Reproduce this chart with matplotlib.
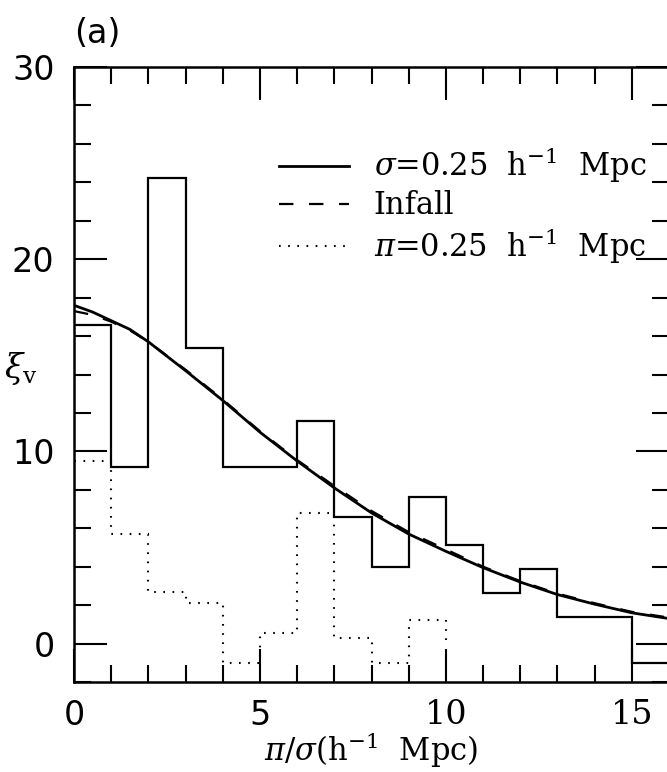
import matplotlib
matplotlib.use('Agg')
import matplotlib.pyplot as plt
from matplotlib.ticker import MultipleLocator

# === DADOS ===
bordas = list(range(17))                      # bins de largura 1, 0..16
hist_sigma = [16.6, 9.2, 24.2, 15.4, 9.2, 9.2, 11.6, 6.6,
              4.0, 7.65, 5.15, 2.65, 3.9, 1.4, 1.4, -1.0]
bordas_pi = list(range(11))                   # 0..10
hist_pi = [9.5, 5.7, 2.7, 2.1, -1.0, 0.55, 6.8, 0.3, -1.0, 1.25]

curva_x = [0, 0.5, 1, 1.5, 2, 3, 4, 5, 6, 7, 8, 9, 10, 11, 12, 13, 14, 15, 16]
curva_sigma = [17.6, 17.25, 16.8, 16.35, 15.7, 14.2, 12.65, 11.0, 9.5, 8.1,
               6.8, 5.7, 4.8, 3.95, 3.2, 2.55, 2.05, 1.6, 1.3]
curva_infall = [17.3, 17.1, 16.75, 16.3, 15.7, 14.25, 12.7, 11.05, 9.55, 8.2,
                6.9, 5.8, 4.9, 4.0, 3.25, 2.6, 2.1, 1.65, 1.35]

rotulos = [r'$\sigma$=0.25  h$^{-1}$  Mpc', 'Infall', r'$\pi$=0.25  h$^{-1}$  Mpc']

# === ESTILO ===
plt.rcParams['font.family'] = 'DejaVu Serif'
plt.rcParams['mathtext.fontset'] = 'dejavuserif'

fig = plt.figure(figsize=(6.67, 7.72), dpi=100)
ax = fig.add_axes([74 / 667, 1 - 682 / 772, 595 / 667, 615 / 772])

lw = 1.6
l1 = ax.plot(curva_x, curva_sigma, color='black', lw=2.0, label=rotulos[0])[0]
l2 = ax.plot(curva_x, curva_infall, color='black', lw=1.6, dashes=(6.5, 7),
             label=rotulos[1])[0]
l3, = ax.plot([], [], color='black', lw=1.5, dashes=(0.8, 3.6), label=rotulos[2])

ax.stairs(hist_sigma, bordas, baseline=None, color='black', lw=lw)
ax.stairs(hist_pi, bordas_pi, baseline=0, color='black', lw=1.5,
          linestyle=(0, (0.8, 3.6)))

ax.set_xlim(0, 16)
ax.set_ylim(-2, 30)
ax.set_xticks([0, 5, 10, 15])
ax.set_yticks([0, 10, 20, 30])
ax.xaxis.set_minor_locator(MultipleLocator(1))
ax.yaxis.set_minor_locator(MultipleLocator(2))
ax.tick_params(which='both', direction='in', top=True, right=True,
               labelsize=24, width=1.5)
ax.tick_params(axis='y', pad=14)
ax.tick_params(axis='x', pad=12)
ax.tick_params(which='major', length=24)
ax.tick_params(which='minor', length=12.5)
for s in ax.spines.values():
    s.set_linewidth(1.8)

for t in ax.get_yticklabels():
    t.set_fontfamily('DejaVu Sans')
for t in ax.get_xticklabels():
    if t.get_text() in ('0', '5'):
        t.set_fontfamily('DejaVu Sans')

ax.set_xlabel(r'$\pi/\sigma$(h$^{-1}$  Mpc)', fontsize=22, labelpad=-1)
ax.set_ylabel(r'$\xi_{\rm v}$', fontsize=24, rotation=0)
ax.yaxis.set_label_coords(-0.09, 0.48)

ax.text(0.0, 1.055, '(a)', transform=ax.transAxes, fontsize=24,
        fontfamily='DejaVu Sans', va='center', ha='left')

ax.legend(handles=[l1, l2, l3], loc='upper left', bbox_to_anchor=(0.3445, 0.872),
          frameon=False, fontsize=22, handlelength=2.3, handletextpad=0.8,
          labelspacing=0.16, borderpad=0, borderaxespad=0)

fig.savefig('out.png', dpi=100)
